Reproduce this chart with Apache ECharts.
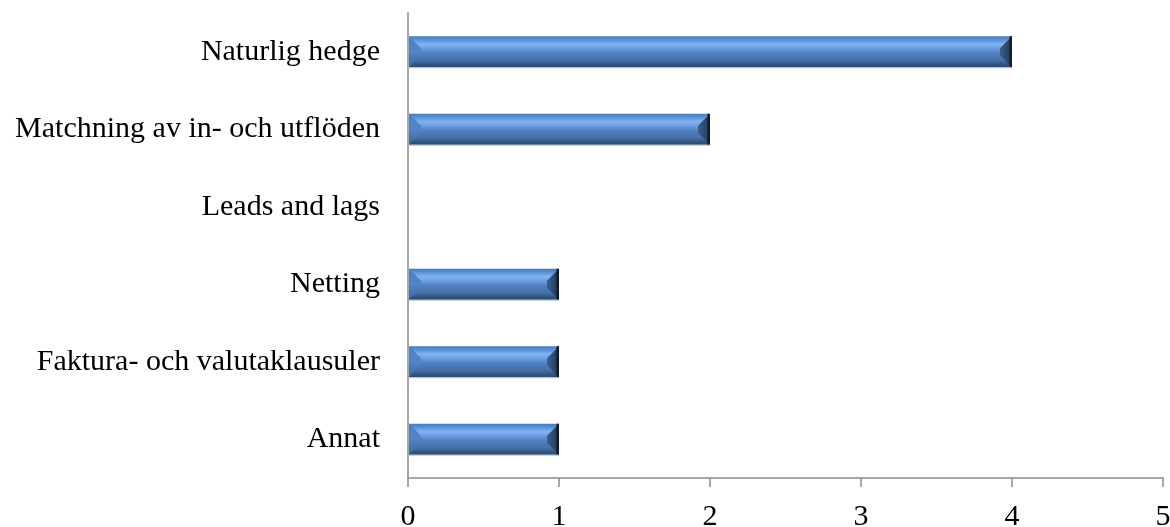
<!DOCTYPE html>
<html>
<head>
<meta charset="utf-8">
<style>
  html, body { margin: 0; padding: 0; background: #ffffff; }
  #chart { width: 1170px; height: 527px; }
</style>
<script src="https://cdn.jsdelivr.net/npm/echarts@6/dist/echarts.min.js"></script>
</head>
<body>
<div id="chart"></div>
<script>
// Categories listed top to bottom
const categories = [
  'Naturlig hedge',
  'Matchning av in- och utflöden',
  'Leads and lags',
  'Netting',
  'Faktura- och valutaklausuler',
  'Annat'
];
const values = [4, 2, 0, 1, 1, 1];
const xTicks = [0, 1, 2, 3, 4, 5];

const FONT = '"Liberation Serif", "Times New Roman", serif';
const AXIS_COLOR = '#8a8a8a';

// Bevelled bar: vertical shading across the body plus shaded end caps
function renderBevelBar(params, api) {
  const v = api.value(0);
  const cat = api.value(1);
  if (!v) return null;
  const start = api.coord([0, cat]);
  const end = api.coord([v, cat]);
  const h = api.size([0, 1])[1] * 0.4;
  const top = start[1] - h / 2;
  const bottom = start[1] + h / 2;
  const x0 = start[0] + 1;
  const x1 = end[0];
  const b = Math.min(12, (x1 - x0) / 3, h / 2 - 2);

  const body = new echarts.graphic.LinearGradient(0, 0, 0, 1, [
    { offset: 0, color: '#4a7bbd' },
    { offset: 0.08, color: '#5289cf' },
    { offset: 0.26, color: '#80b4f3' },
    { offset: 0.38, color: '#6f9fe0' },
    { offset: 0.55, color: '#4f80c0' },
    { offset: 0.78, color: '#4470a8' },
    { offset: 0.9, color: '#34567f' },
    { offset: 1, color: '#2b4870' }
  ]);
  const leftCap = new echarts.graphic.LinearGradient(0, 0, 0, 1, [
    { offset: 0, color: '#4d80c4' },
    { offset: 0.5, color: '#5285c8' },
    { offset: 1, color: '#3b6499' }
  ]);
  const rightCap = new echarts.graphic.LinearGradient(0, 0, 1, 0, [
    { offset: 0, color: '#3a5f8e' },
    { offset: 0.6, color: '#2a476e' },
    { offset: 1, color: '#1c3250' }
  ]);

  return {
    type: 'group',
    children: [
      { type: 'rect', shape: { x: x0, y: top, width: x1 - x0, height: h }, style: { fill: body } },
      { type: 'polygon', shape: { points: [[x0, top], [x0 + b, top + b], [x0 + b, bottom - b], [x0, bottom]] }, style: { fill: leftCap } },
      { type: 'polygon', shape: { points: [[x1, top], [x1 - b, top + b], [x1 - b, bottom - b], [x1, bottom]] }, style: { fill: rightCap } },
      { type: 'rect', shape: { x: x1 - 2.5, y: top, width: 2.5, height: h }, style: { fill: '#111d2f' } },
      { type: 'line', shape: { x1: x0, y1: bottom + 0.5, x2: x1, y2: bottom + 0.5 }, style: { stroke: '#a9c3e8', lineWidth: 1 } }
    ]
  };
}

const chart = echarts.init(document.getElementById('chart'), null, { renderer: 'canvas' });
chart.setOption({
  animation: false,
  backgroundColor: '#ffffff',
  grid: { left: 408, right: 7, top: 13, bottom: 49, containLabel: false, outerBoundsMode: 'none' },
  xAxis: {
    type: 'value',
    min: xTicks[0],
    max: xTicks[xTicks.length - 1],
    interval: 1,
    axisLine: { show: true, lineStyle: { color: AXIS_COLOR, width: 1.5 } },
    axisTick: { show: true, length: 9, lineStyle: { color: AXIS_COLOR, width: 1.5 } },
    splitLine: { show: false },
    axisLabel: { color: '#000', fontFamily: FONT, fontSize: 30, margin: 24 }
  },
  yAxis: {
    type: 'category',
    data: categories,
    inverse: true,
    axisLine: { show: true, lineStyle: { color: AXIS_COLOR, width: 1.5 } },
    axisTick: { show: false },
    splitLine: { show: false },
    axisLabel: { color: '#000', fontFamily: FONT, fontSize: 30, margin: 28 }
  },
  series: [{
    type: 'custom',
    renderItem: renderBevelBar,
    encode: { x: 0, y: 1 },
    data: values.map((v, i) => [v, i])
  }]
});
</script>
</body>
</html>
